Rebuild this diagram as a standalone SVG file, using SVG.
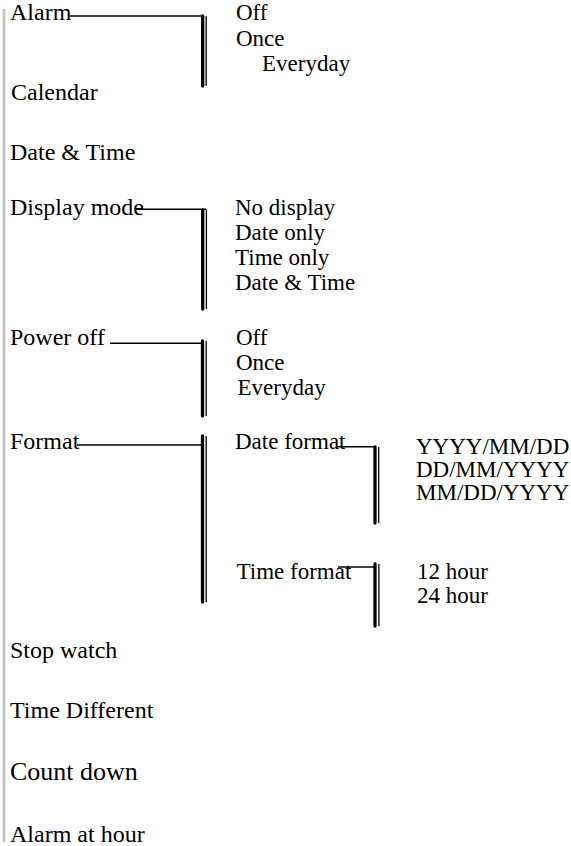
<svg xmlns="http://www.w3.org/2000/svg" width="571" height="846" viewBox="0 0 571 846">
<style>
text{fill:#000;}
.l{font-size:24px;}
.r{font-size:23px;}
.big{font-size:26px;}
.h{stroke:#000;stroke-width:1.5;fill:none;}
.tk{stroke:#000;stroke-width:3.3;stroke-linecap:round;fill:none;}
.tn{stroke:#000;stroke-width:1.3;fill:none;}
</style>
<rect x="2.5" y="9" width="3" height="833" fill="#c4c4c4"/>
<g id="connectors">
<line class="h" x1="70" y1="16" x2="203" y2="16"/>
<line class="tk" x1="202.7" y1="16" x2="202.7" y2="86"/>
<line class="tn" x1="206.2" y1="16" x2="206.2" y2="86"/>
<line class="h" x1="135" y1="209.3" x2="206.5" y2="209.3"/>
<line class="tk" x1="202.7" y1="210" x2="202.7" y2="309"/>
<line class="tn" x1="206.4" y1="210" x2="206.4" y2="309"/>
<line class="h" x1="110" y1="343.3" x2="203" y2="343.3"/>
<line class="tk" x1="202.5" y1="341" x2="202.5" y2="416"/>
<line class="tn" x1="206.2" y1="341" x2="206.2" y2="416"/>
<line class="h" x1="77" y1="445" x2="203" y2="445"/>
<line class="tk" x1="202.5" y1="436" x2="202.5" y2="602"/>
<line class="tn" x1="206.2" y1="436" x2="206.2" y2="602"/>
<line class="h" x1="337" y1="446.7" x2="375" y2="446.7"/>
<line class="tk" x1="375" y1="447" x2="375" y2="523"/>
<line class="tn" x1="378.7" y1="447" x2="378.7" y2="523"/>
<line class="h" x1="338" y1="567" x2="375" y2="567"/>
<line class="tk" x1="375" y1="564" x2="375" y2="626"/>
<line class="tn" x1="378.9" y1="564" x2="378.9" y2="626"/>
</g>
<g font-family="Liberation Serif, Tinos, Times New Roman, DejaVu Serif, serif">
<g id="alarm"><text class="l" x="10" y="20">Alarm</text></g>
<g id="alarm-options">
<text class="r" x="236" y="20">Off</text>
<text class="r" x="236" y="46">Once</text>
<text class="r" x="262" y="71">Everyday</text>
</g>
<g id="calendar"><text class="l" x="11" y="100">Calendar</text></g>
<g id="date-time"><text class="l" x="10" y="160">Date &amp; Time</text></g>
<g id="display-mode"><text class="l" x="10" y="215">Display mode</text></g>
<g id="display-options">
<text class="r" x="235" y="215">No display</text>
<text class="r" x="235" y="240">Date only</text>
<text class="r" x="235" y="265">Time only</text>
<text class="r" x="235" y="290">Date &amp; Time</text>
</g>
<g id="power-off"><text class="l" x="10" y="345">Power off</text></g>
<g id="power-options">
<text class="r" x="236" y="345">Off</text>
<text class="r" x="236" y="370">Once</text>
<text class="r" x="237.5" y="395">Everyday</text>
</g>
<g id="format"><text class="l" x="10" y="449">Format</text></g>
<g id="date-format"><text class="r" x="235" y="449">Date format</text></g>
<g id="date-format-options">
<text class="r" x="416" y="454">YYYY/MM/DD</text>
<text class="r" x="416" y="477">DD/MM/YYYY</text>
<text class="r" x="416" y="500">MM/DD/YYYY</text>
</g>
<g id="time-format"><text class="r" x="236.5" y="579">Time format</text></g>
<g id="time-format-options">
<text class="r" x="417" y="579">12 hour</text>
<text class="r" x="417" y="603">24 hour</text>
</g>
<g id="stop-watch"><text class="l" x="10" y="658">Stop watch</text></g>
<g id="time-different"><text class="l" x="10" y="718">Time Different</text></g>
<g id="count-down"><text class="big" x="10" y="780">Count down</text></g>
<g id="alarm-at-hour"><text class="l" x="10" y="842">Alarm at hour</text></g>
</g>
</svg>
